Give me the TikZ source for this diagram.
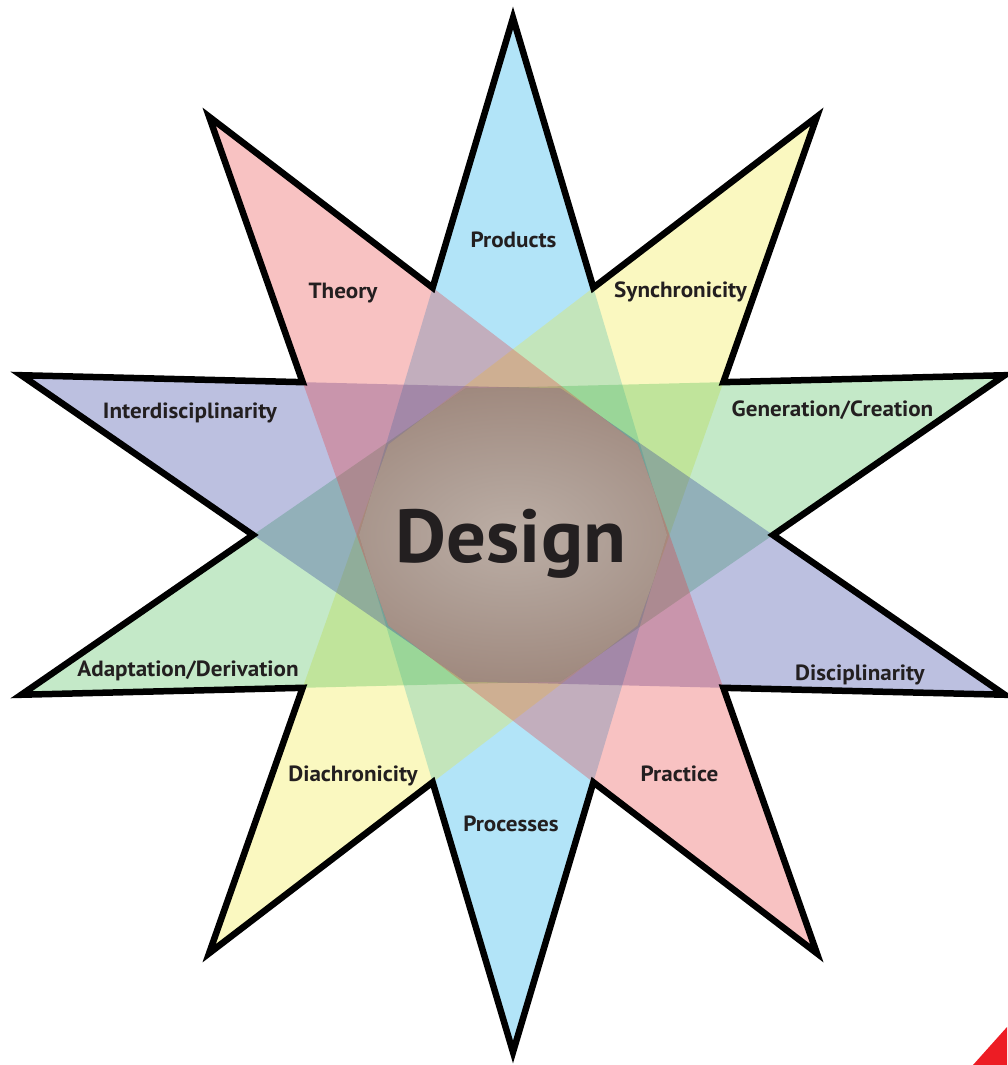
\documentclass[tikz,border=0pt]{standalone}
\usepackage{fontspec}
\setmainfont{PT Sans}[FakeStretch=1.05]
\definecolor{cBlue}{RGB}{0,165,232}
\definecolor{cYellow}{RGB}{238,232,45}
\definecolor{cGreen}{RGB}{58,182,72}
\definecolor{cPurple}{RGB}{32,45,152}
\definecolor{cRed}{RGB}{232,52,52}
\definecolor{txt}{RGB}{35,31,32}
\definecolor{glowA}{RGB}{188,174,165}
\definecolor{glowB}{RGB}{176,160,151}
\definecolor{edgeC}{RGB}{158,135,124}
\definecolor{cornerRed}{RGB}{237,28,36}
\pgfdeclareradialshading{glow}{\pgfpoint{0bp}{0bp}}{color(0bp)=(glowA); color(8bp)=(glowB); color(22bp)=(edgeC); color(50bp)=(edgeC)}
\tikzset{
  petal/.style={fill=#1, fill opacity=0.3, draw=none},
  outline/.style={draw=black, line width=6.5pt, line join=miter, fill=none},
  lab/.style={font=\fontsize{22}{22}\selectfont\bfseries, text=txt, anchor=base, inner sep=0pt},
  biglab/.style={font=\fontsize{75}{75}\selectfont\bfseries, text=txt, anchor=base, inner sep=0pt}
}
\begin{document}
\begin{tikzpicture}[x=1pt,y=1pt]
\useasboundingbox (0,0) rectangle (1007,1065);
\begin{scope}[shift={(513,530)}]
  % five long diamonds
  \fill[petal=cBlue]   (90:517)  -- (180:154) -- (270:517) -- (0:154)    -- cycle;
  \fill[petal=cYellow] (54:517)  -- (144:154) -- (234:517) -- (-36:154)  -- cycle;
  \fill[petal=cGreen]  (18:517)  -- (108:154) -- (198:517) -- (-72:154)  -- cycle;
  \fill[petal=cPurple] (-18:517) -- (72:154)  -- (162:517) -- (-108:154) -- cycle;
  \fill[petal=cRed]    (-54:517) -- (36:154)  -- (126:517) -- (-144:154) -- cycle;
  % glow in the common core
  \begin{scope}
    \clip (90:517)  -- (180:154) -- (270:517) -- (0:154)    -- cycle;
    \clip (54:517)  -- (144:154) -- (234:517) -- (-36:154)  -- cycle;
    \clip (18:517)  -- (108:154) -- (198:517) -- (-72:154)  -- cycle;
    \clip (-18:517) -- (72:154)  -- (162:517) -- (-108:154) -- cycle;
    \clip (-54:517) -- (36:154)  -- (126:517) -- (-144:154) -- cycle;
    \shade[shading=glow] (0,0) ellipse (280 and 180);
  \end{scope}
  % outer star outline
  \draw[outline] (90:517) -- (72:260) -- (54:517) -- (36:260) -- (18:517) -- (0:260)
    -- (-18:517) -- (-36:260) -- (-54:517) -- (-72:260) -- (-90:517) -- (-108:260)
    -- (-126:517) -- (-144:260) -- (-162:517) -- (-180:260) -- (162:517) -- (144:260)
    -- (126:517) -- (108:260) -- cycle;
\end{scope}
% labels
\node[lab] (products) at (513.5,817) {Products};
\node[lab] (synchro) at (680.5,767) {Synchronicity};
\node[lab] (theory) at (343,766) {Theory};
\node[lab] (inter) at (190,646) {Interdisciplinarity};
\node[lab] (gener) at (832.5,648) {Generation/Creation};
\node[lab] (adapt) at (188,388) {Adaptation/Derivation};
\node[lab] (disc) at (860,384) {Disciplinarity};
\node[lab] (diachro) at (353,283) {Diachronicity};
\node[lab] (practice) at (679.5,283) {Practice};
\node[lab] (processes) at (511,233) {Processes};
\node[biglab] (design) at (511,502) {Design};
% corner mark
\fill[cornerRed] (973,0) -- (1007,38) -- (1007,0) -- cycle;
\end{tikzpicture}
\end{document}
